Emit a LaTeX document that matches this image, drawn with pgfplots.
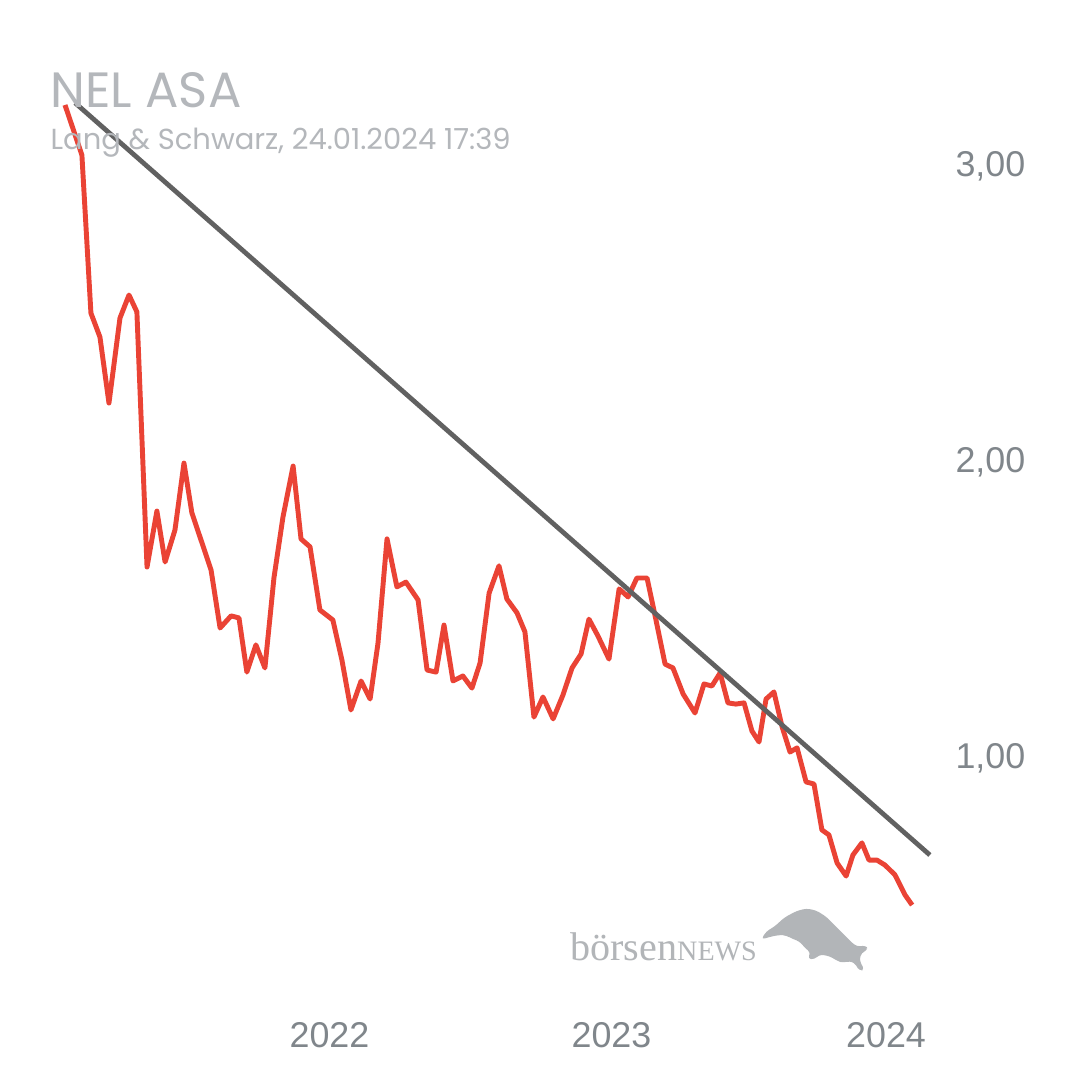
\documentclass[border=0pt]{standalone}
\usepackage{pgfplots}
\pgfplotsset{compat=1.18}
\usepackage{pgfplotstable}
\usepackage{fontspec}
\setmainfont{Liberation Sans}
\newfontfamily\titlefont{Poppins}
\newfontfamily\logofont{Liberation Serif}
\definecolor{nelred}{HTML}{EA4335}
\definecolor{trendgray}{HTML}{616161}
\definecolor{titlegray}{HTML}{B4B7BB}
\definecolor{tickgray}{HTML}{80868B}
\definecolor{logogray}{HTML}{B2B5B8}

\pgfplotstableread{
year price
2021.062 3.196
2021.122 3.027
2021.154 2.493
2021.186 2.412
2021.218 2.189
2021.257 2.476
2021.289 2.554
2021.317 2.497
2021.353 1.635
2021.388 1.824
2021.417 1.652
2021.452 1.760
2021.484 1.986
2021.512 1.818
2021.548 1.716
2021.580 1.625
2021.612 1.429
2021.651 1.470
2021.679 1.463
2021.707 1.280
2021.739 1.372
2021.771 1.294
2021.803 1.598
2021.835 1.804
2021.871 1.976
2021.899 1.730
2021.931 1.703
2021.966 1.490
2022.012 1.456
2022.044 1.321
2022.076 1.152
2022.112 1.250
2022.144 1.189
2022.172 1.378
2022.204 1.730
2022.239 1.568
2022.271 1.584
2022.314 1.524
2022.346 1.287
2022.378 1.280
2022.406 1.439
2022.438 1.250
2022.473 1.267
2022.505 1.226
2022.534 1.311
2022.566 1.547
2022.601 1.639
2022.629 1.527
2022.665 1.480
2022.693 1.416
2022.725 1.128
2022.757 1.196
2022.793 1.122
2022.828 1.203
2022.860 1.294
2022.892 1.341
2022.920 1.459
2022.952 1.402
2022.991 1.324
2023.027 1.561
2023.059 1.534
2023.090 1.598
2023.126 1.598
2023.154 1.473
2023.190 1.307
2023.218 1.294
2023.254 1.206
2023.296 1.142
2023.328 1.240
2023.356 1.233
2023.385 1.277
2023.413 1.176
2023.441 1.172
2023.470 1.176
2023.498 1.081
2023.523 1.044
2023.548 1.189
2023.576 1.213
2023.605 1.095
2023.633 1.010
2023.658 1.024
2023.690 0.909
2023.718 0.902
2023.746 0.747
2023.771 0.730
2023.800 0.635
2023.832 0.591
2023.856 0.662
2023.888 0.703
2023.913 0.645
2023.941 0.645
2023.970 0.628
2024.005 0.595
2024.041 0.527
2024.066 0.493
}\nelprice

\begin{document}
\begin{tikzpicture}
\useasboundingbox (0,0) rectangle (10.8cm,10.8cm);
\fill[white] (0,0) rectangle (10.8cm,10.8cm);
\begin{axis}[
  at={(0,0)}, anchor=south west,
  scale only axis, width=10.8cm, height=10.8cm,
  xmin=2020.8316, xmax=2024.6613, ymin=-0.098, ymax=3.5507,
  axis line style={draw=none},
  major tick length=0pt,
  tick style={draw=none},
  clip=false,
  xtick={2022,2023}, xticklabels={2022,2023},
  extra x ticks={2024}, extra x tick labels={2024},
  extra x tick style={xticklabel style={xshift=-0.075cm}},
  ytick={1,2,3}, yticklabels={{1,00},{2,00},{3,00}},
  yticklabel pos=right,
  yticklabel style={anchor=east, inner sep=0pt, xshift=-0.54cm, yshift=-0.035cm},
  xticklabel style={anchor=base, inner sep=0pt, yshift=0.33cm},
  tick label style={font=\fontsize{10.2}{12}\selectfont, text=tickgray},
]
\addplot[nelred, line width=1.4pt, line join=round, mark=none] table[x=year, y=price] {\nelprice};
\addplot[trendgray, line width=1.35pt, mark=none] coordinates {(2021.098,3.203) (2024.129,0.662)};
\end{axis}
\begin{scope}[x=0.01cm, y=-0.01cm, shift={(0,10.8cm)}]
\node[anchor=base west, inner sep=0pt, text=titlegray, font=\titlefont\fontsize{14.1}{16}\selectfont] at (50,108) {NEL ASA};
\node[anchor=base west, inner sep=0pt, text=titlegray, font=\titlefont\fontsize{8.25}{10}\selectfont] at (50,150) {Lang \& Schwarz, 24.01.2024 17:39};
\node[anchor=base west, inner sep=0pt, text=logogray, font=\logofont\fontsize{11.4}{13}\selectfont] at (570,961) {börsen\fontsize{8}{10}\selectfont NEWS};
\fill[logogray, rounded corners=1pt] (761.7,940) -- (766.7,932) -- (775,927) -- (785,918) -- (796.7,911.7) -- (806.7,909) -- (816.7,911) -- (826.7,917.3) -- (836.7,927.3) -- (846.7,937.3) -- (855,945.7) -- (860,947.3) -- (866.7,945.7) -- (868.3,950.7) -- (861.7,953.3) -- (860,961.7) -- (865,970) -- (860,971.7) -- (855,963.3) -- (850,961.7) -- (843.3,963.3) -- (838.3,961.7) -- (830,956.7) -- (820,955) -- (815,960) -- (808,959.3) -- (811.3,953.3) -- (806,949) -- (800,942) -- (792,939) -- (786.7,936) -- (780,935.5) -- (772,937) -- cycle;
\end{scope}
\end{tikzpicture}
\end{document}
